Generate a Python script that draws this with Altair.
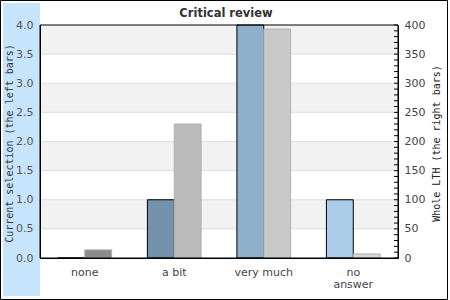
import altair as alt
import pandas as pd

categories = ["none", "a bit", "very much", "no answer"]
current_selection = [0, 1, 4, 1]
whole_lth = [14, 230, 393, 7]

left_ticks = [0, 0.5, 1, 1.5, 2, 2.5, 3, 3.5, 4]
right_ticks = [0, 50, 100, 150, 200, 250, 300, 350, 400]
right_minor = list(range(0, 401, 10))
band_lo = [0.5, 1.5, 2.5, 3.5]
band_hi = [1, 2, 3, 4]
grid_vals = [0.5, 1, 1.5, 2, 2.5, 3, 3.5]

left_colors = ["#8aa9c4", "#7393ad", "#8fb0cc", "#abcde9"]
right_colors = ["#8c8c8c", "#bbbbbb", "#c9c9c9", "#d8d8d8"]

W, H = 358, 233

left_df = pd.DataFrame({"cat": categories, "v": current_selection, "s": "left"})
right_df = pd.DataFrame({"cat": categories, "v": whole_lth, "s": "right"})
band_df = pd.DataFrame({"lo": band_lo, "hi": band_hi})
grid_df = pd.DataFrame({"g": grid_vals})
minor_df = pd.DataFrame({"m": right_minor})
dummy = alt.Data(values=[{}])

x_enc = alt.X("cat:N", sort=categories, scale=alt.Scale(paddingInner=0.4, paddingOuter=0.2),
              axis=alt.Axis(title=None, labelAngle=0, ticks=False, tickSize=0, domainColor="black",
                            labelFont="DejaVu Sans", labelFontSize=11, labelColor="#444",
                            labelPadding=8, labelLineHeight=12, zindex=1,
                            labelExpr="datum.label == 'no answer' ? ['no', 'answer'] : datum.label"))
xoff = alt.XOffset("s:N", scale=alt.Scale(domain=["left", "right"]))

left_axis = alt.Axis(title="Current selection (the left bars)", values=left_ticks, format=".1f",
                     grid=False, ticks=False, tickSize=0, domainColor="black", zindex=1,
                     labelFont="DejaVu Sans", labelFontSize=11, labelColor="#555", labelPadding=7,
                     titleFont="DejaVu Sans Mono", titleFontSize=10, titleFontWeight="normal",
                     titleColor="#333", titleAngle=270, titleX=-31, titleY=118,
                     titleAlign="center", titleBaseline="middle")
right_axis = alt.Axis(title="Whole LTH (the right bars)", values=right_ticks, format="d",
                      grid=False, ticks=False, tickSize=0, domainColor="black", orient="right",
                      zindex=1,
                      labelFont="DejaVu Sans", labelFontSize=11, labelColor="#444", labelPadding=6,
                      titleFont="DejaVu Sans Mono", titleFontSize=10, titleFontWeight="normal",
                      titleColor="#222", titleAngle=270, titleX=38, titleY=118,
                      titleAlign="center", titleBaseline="middle")
lscale = alt.Scale(domain=[0, 4], nice=False, zero=True)
rscale = alt.Scale(domain=[0, 400], nice=False, zero=True)

blue = alt.Chart(dummy).mark_rect(fill="#c6e5fd").encode(
    x=alt.value(-37), x2=alt.value(0), y=alt.value(-22), y2=alt.value(271))
border = alt.Chart(dummy).mark_rect(fill="white", fillOpacity=0, stroke="black", strokeWidth=1).encode(
    x=alt.value(-39.5), x2=alt.value(407.5), y=alt.value(-24.5), y2=alt.value(274.5))
title = alt.Chart(dummy).mark_text(font="DejaVu Sans", fontSize=11.5, fontWeight="bold",
                                   color="#333", align="center", baseline="alphabetic").encode(
    x=alt.value(186), y=alt.value(-8.5), text=alt.value("Critical review"))

bands = alt.Chart(band_df).mark_rect(fill="#f2f2f2").encode(
    y=alt.Y("lo:Q", scale=lscale, axis=left_axis), y2="hi:Q")
grid = alt.Chart(grid_df).mark_rule(color="#dedede", strokeWidth=1).encode(
    y=alt.Y("g:Q", scale=lscale, axis=left_axis))
left_bars = alt.Chart(left_df).mark_bar(stroke="black", strokeWidth=1).encode(
    x=x_enc, xOffset=xoff,
    y=alt.Y("v:Q", scale=lscale, axis=left_axis),
    color=alt.Color("cat:N", scale=alt.Scale(domain=categories, range=left_colors), legend=None))

right_bars = alt.Chart(right_df).mark_bar(stroke="#b0b0b0", strokeWidth=1).encode(
    x=x_enc, xOffset=xoff,
    y=alt.Y("v:Q", scale=rscale, axis=right_axis),
    color=alt.Color("cat:N", scale=alt.Scale(domain=categories, range=right_colors), legend=None))
minor = alt.Chart(minor_df).mark_rule(color="black", strokeWidth=1).encode(
    y=alt.Y("m:Q", scale=rscale, axis=right_axis), x=alt.value(W - 4), x2=alt.value(W))
frame = alt.Chart(dummy).mark_rect(fill="white", fillOpacity=0, stroke="black", strokeWidth=1).encode(
    x=alt.value(0), x2=alt.value(W), y=alt.value(0), y2=alt.value(H))

left_layer = alt.layer(blue, border, title, bands, grid, left_bars)
right_layer = alt.layer(right_bars, minor, frame)

chart = alt.layer(left_layer, right_layer).resolve_scale(
    y="independent", color="independent"
).properties(
    width=W, height=H,
    autosize=alt.AutoSizeParams(type="none"),
    padding={"left": 40, "top": 25, "right": 52, "bottom": 42},
).configure_view(stroke=None).configure(background="white")

chart.save("out.html", embed_options={"renderer": "svg", "actions": False})
